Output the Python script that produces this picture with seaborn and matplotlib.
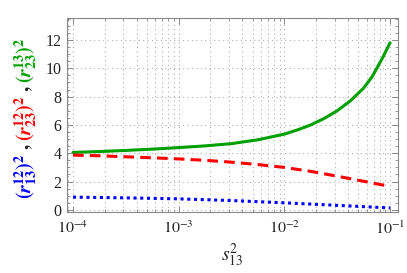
import numpy as np
import matplotlib
matplotlib.use("Agg")
import matplotlib.pyplot as plt
import seaborn as sns

# values (x = s13^2, log scale); exponents of 10
lx_green = [-4, -3.75, -3.5, -3.25, -3, -2.75, -2.5, -2.25, -2, -1.875, -1.75, -1.625,
            -1.5, -1.375, -1.25, -1.17, -1.125, -1.0625, -1]
y_green = [4.06, 4.12, 4.2, 4.29, 4.4, 4.52, 4.68, 4.95, 5.35, 5.65, 6.0, 6.45,
           7.0, 7.7, 8.6, 9.4, 10.0, 10.85, 11.8]

lx_red = [-4, -3.75, -3.5, -3.25, -3, -2.75, -2.5, -2.25, -2, -1.75, -1.5, -1.25, -1]
y_red = [3.87, 3.82, 3.75, 3.68, 3.6, 3.5, 3.37, 3.2, 3.0, 2.72, 2.38, 2.02, 1.66]

lx_blue = [-4, -3.5, -3, -2.5, -2.25, -2, -1.75, -1.5, -1.25, -1]
y_blue = [0.9, 0.85, 0.78, 0.66, 0.58, 0.5, 0.41, 0.32, 0.23, 0.14]

label_parts = [
    (r"$\mathbf{(}\mathbfit{r}_{\mathbf{13}}^{\mathbf{12}}\mathbf{)}^{\mathbf{2}}$", "#0000ff"),
    (r"$\mathbf{,}$", "#222222"),
    (r"$\mathbf{(}\mathbfit{r}_{\mathbf{23}}^{\mathbf{12}}\mathbf{)}^{\mathbf{2}}$", "#ff0000"),
    (r"$\mathbf{,}$", "#222222"),
    (r"$\mathbf{(}\mathbfit{r}_{\mathbf{23}}^{\mathbf{13}}\mathbf{)}^{\mathbf{2}}$", "#00a000"),
]

sns.set_theme(style="ticks")
plt.rcParams["font.family"] = ["Liberation Serif", "DejaVu Serif"]
plt.rcParams["mathtext.fontset"] = "stix"

fig = plt.figure(figsize=(4.07, 2.73), dpi=100)
ax = fig.add_axes([0.1646, 0.2234, 0.8134, 0.7106])

sns.lineplot(x=10.0 ** np.array(lx_green), y=y_green, ax=ax, color="#00a000", lw=2.2, ls="-")
sns.lineplot(x=10.0 ** np.array(lx_red), y=y_red, ax=ax, color="#ff0000", lw=2.2, ls=(0, (3.5, 2)))
sns.lineplot(x=10.0 ** np.array(lx_blue), y=y_blue, ax=ax, color="#0000ff", lw=2.2, ls=(0, (1, 1.2)))

ax.set_xscale("log")
ax.set_xlim(10**-4.057, 10**-0.924)
ax.set_ylim(-0.15, 13.55)
ax.set_yticks(range(0, 13, 2))
ax.yaxis.set_minor_locator(matplotlib.ticker.MultipleLocator(0.5))
ax.set_xticks([1e-4, 1e-3, 1e-2, 1e-1])
ax.set_xticklabels([r"$10^{-4}$", r"$10^{-3}$", r"$10^{-2}$", r"$10^{-1}$"])

ax.grid(True, which="major", axis="y", color="#b0b0b0", ls=(0, (1, 3)), lw=0.8)
ax.grid(True, which="both", axis="x", color="#b0b0b0", ls=(0, (1, 3)), lw=0.8)

for s in ax.spines.values():
    s.set_color("#888888")
    s.set_linewidth(0.8)
ax.tick_params(which="both", direction="in", top=True, right=True, color="#888888",
               labelsize=11.5, labelcolor="#222222")
ax.tick_params(axis="x", which="major", pad=6)
ax.tick_params(axis="y", which="major", pad=4)
ax.tick_params(which="major", length=4, width=0.7)
ax.tick_params(which="minor", length=2, width=0.6)

ax.set_xlabel(r"$s_{13}^{2}$", fontsize=14, labelpad=3)

# coloured y-label, placed piece by piece from bottom to top
fig.canvas.draw()
renderer = fig.canvas.get_renderer()
ypos = 1 - 199 / 273
for txt, col in label_parts:
    t = fig.text(0.062, ypos, txt, color=col, rotation=90, ha="center", va="bottom", fontsize=14.5)
    bb = t.get_window_extent(renderer)
    ypos = (bb.y1 + 3) / fig.bbox.height

fig.savefig("out.png", dpi=100)
